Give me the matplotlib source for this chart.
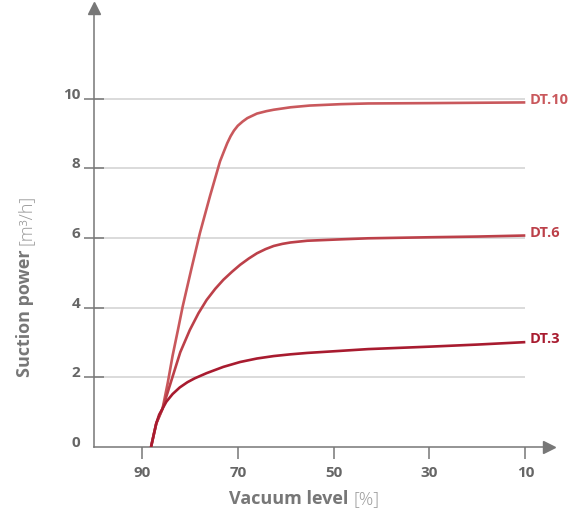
import numpy as np
import matplotlib.pyplot as plt
from matplotlib.transforms import ScaledTranslation

# curves (vacuum level %, suction power m3/h)
dt10_x = [88.1, 87.0, 85.7, 84.6, 83.6, 82.5, 81.5, 79.7, 77.9, 75.8, 73.7, 72.9, 72.2, 71.5, 70.8, 70.0, 69.0, 68.0, 66.0, 64.0, 62.5, 59.0, 55.0, 48.5, 42.8, 30.0, 10.0]
dt10_y = [0.0, 0.68, 1.10, 1.85, 2.62, 3.35, 4.03, 5.10, 6.14, 7.20, 8.20, 8.48, 8.72, 8.92, 9.08, 9.22, 9.34, 9.44, 9.57, 9.64, 9.68, 9.75, 9.80, 9.84, 9.86, 9.87, 9.89]
dt6_x = [88.1, 87.0, 85.7, 84.6, 83.6, 82.0, 80.0, 78.2, 76.5, 74.7, 73.0, 71.2, 69.5, 67.7, 66.0, 64.2, 62.5, 60.7, 59.0, 55.5, 52.0, 48.5, 42.8, 30.0, 20.0, 10.0]
dt6_y = [0.0, 0.68, 1.10, 1.58, 2.02, 2.72, 3.36, 3.84, 4.22, 4.54, 4.80, 5.03, 5.23, 5.41, 5.56, 5.68, 5.77, 5.83, 5.87, 5.92, 5.94, 5.96, 5.99, 6.02, 6.04, 6.07]
dt3_x = [88.1, 87.5, 87.0, 86.4, 85.7, 84.9, 83.6, 82.1, 80.5, 79.0, 76.5, 73.0, 69.5, 66.0, 62.5, 59.0, 55.5, 48.5, 42.8, 30.0, 20.0, 10.0]
dt3_y = [0.0, 0.38, 0.68, 0.93, 1.10, 1.30, 1.52, 1.71, 1.86, 1.97, 2.12, 2.30, 2.44, 2.54, 2.61, 2.66, 2.70, 2.76, 2.81, 2.88, 2.94, 3.01]

series = [
    ("DT.10", dt10_x, dt10_y, "#c9585c"),
    ("DT.6", dt6_x, dt6_y, "#bc4049"),
    ("DT.3", dt3_x, dt3_y, "#a81b2f"),
]
xticks = [90, 70, 50, 30, 10]
yticks = [0, 2, 4, 6, 8, 10]

grey = "#777777"
plt.rcParams["font.family"] = ["Open Sans", "DejaVu Sans"]

fig = plt.figure(figsize=(5.75, 5.16), dpi=100)
ax = fig.add_axes([94 / 575, (516 - 447) / 516, (549 - 94) / 575, (447 - 8) / 516])
ax.set_xlim(100, 5.06)
ax.set_ylim(0, 12.6)

# grid lines stop at 10 %
ax.hlines(yticks[1:], 100, 10, color="#d4d4d4", lw=1.2, zorder=1)

for name, xs, ys, c in series:
    ax.plot(xs, ys, color=c, lw=1.9, solid_capstyle="butt", solid_joinstyle="round", zorder=3)
    ax.annotate(name, (xs[-1], ys[-1]), xytext=(3, 2), textcoords="offset points",
                color=c, fontsize=10.5, fontweight="bold", va="center", ha="left",
                annotation_clip=False)

for s in ["top", "right"]:
    ax.spines[s].set_visible(False)
for s in ["left", "bottom"]:
    ax.spines[s].set_color(grey)
    ax.spines[s].set_linewidth(1.1)

# arrow heads on the axes
ax.plot(1, 0, ">", color=grey, ms=8, transform=ax.transAxes, clip_on=False)
ax.plot(0, 1, "^", color=grey, ms=8, transform=ax.transAxes, clip_on=False)

ax.set_xticks(xticks)
ax.set_xticklabels([str(v) for v in xticks])
ax.set_yticks(yticks)
ax.set_yticklabels([str(v) for v in yticks])
ax.tick_params(axis="x", direction="out", length=8.5, width=1.1, color=grey,
               labelcolor="#666666", labelsize=11, pad=5)
ax.tick_params(axis="y", direction="inout", length=14, width=1.1, color=grey,
               labelcolor="#666666", labelsize=11, pad=3)
ax.yaxis.get_major_ticks()[0].tick1line.set_visible(False)
ax.yaxis.get_major_ticks()[0].tick2line.set_visible(False)
for lab in ax.get_xticklabels() + ax.get_yticklabels():
    lab.set_fontweight("bold")
for lab in ax.get_yticklabels():
    lab.set_transform(lab.get_transform() + ScaledTranslation(0, 4 / 72, fig.dpi_scale_trans))

# axis titles: bold name + light unit
fig.text(0.614, 0.023, "Vacuum level ", fontsize=13, color=grey, fontweight="bold",
         ha="right", va="baseline")
fig.text(0.614, 0.023, "[%]", fontsize=13, color="#9a9a9a", fontweight="light",
         ha="left", va="baseline")
fig.text(0.053, 0.525, "Suction power ", fontsize=13, color=grey, fontweight="bold",
         rotation=90, ha="right", va="baseline", rotation_mode="anchor")
fig.text(0.053, 0.525, "[m³/h]", fontsize=13, color="#9a9a9a", fontweight="light",
         rotation=90, ha="left", va="baseline", rotation_mode="anchor")

fig.savefig("out.png", dpi=100)
